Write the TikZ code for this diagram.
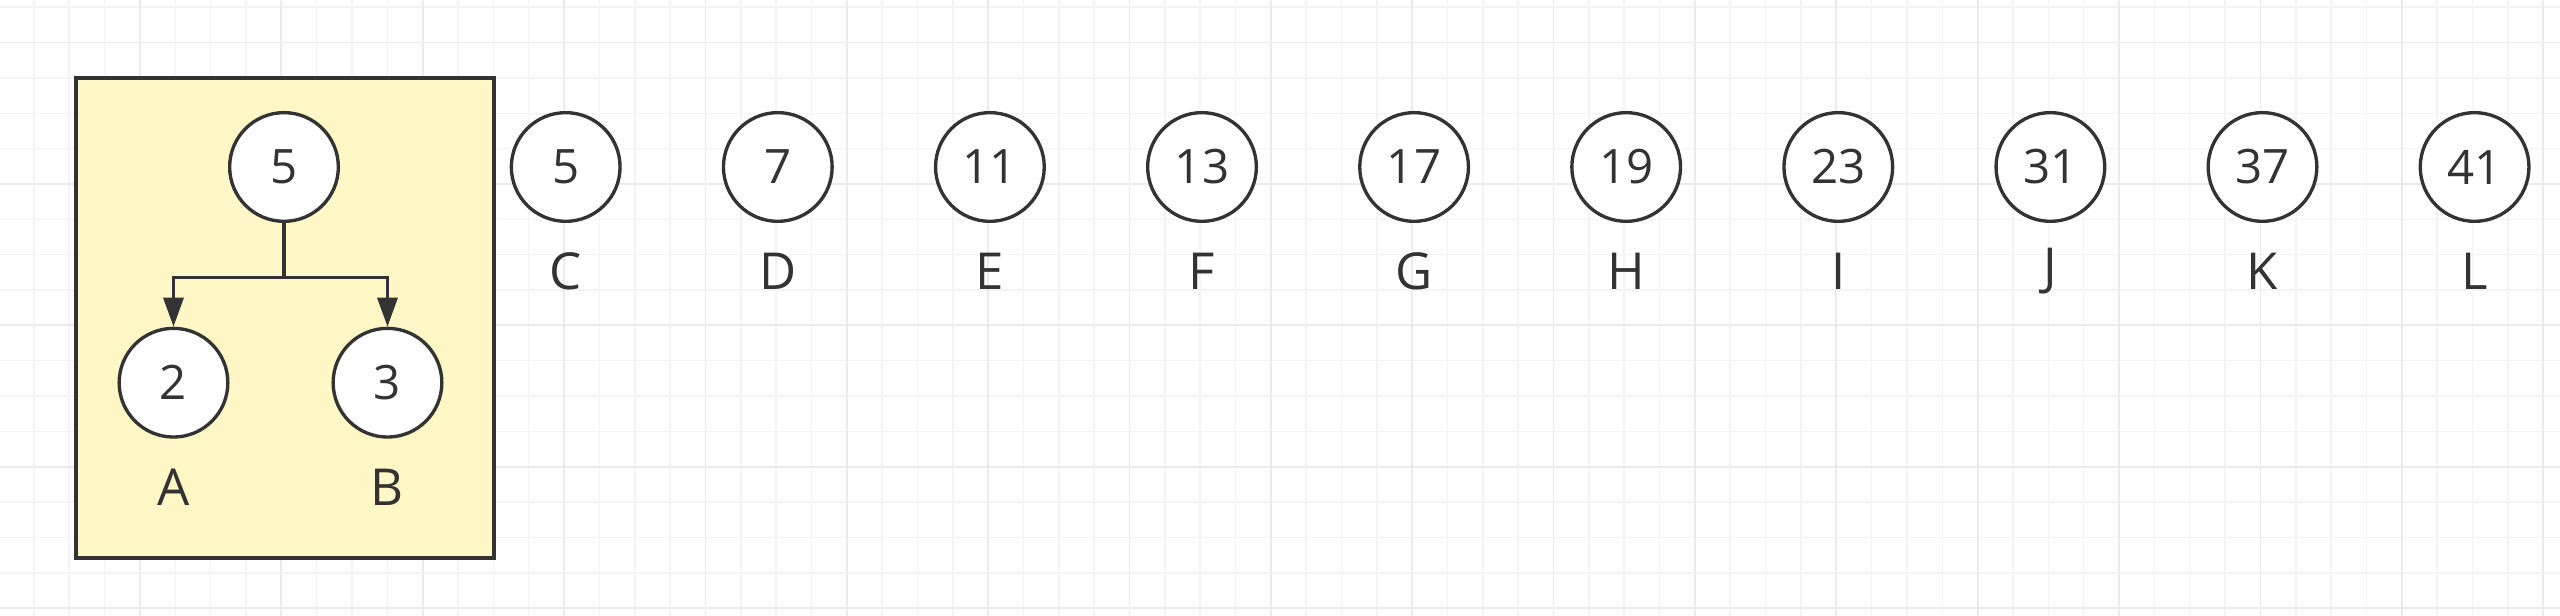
\documentclass[tikz,border=0pt]{standalone}
\usepackage{fontspec}
\setmainfont{Open Sans}
\usepackage{tikz}
\usetikzlibrary{arrows.meta}
\usetikzlibrary{calc}

\definecolor{inkgray}{HTML}{333333}
\definecolor{boxyellow}{HTML}{FFF7C6}
\definecolor{gridminor}{HTML}{F4F4F4}
\definecolor{gridmajor}{HTML}{EBEBEB}

\begin{document}
\begin{tikzpicture}[inner sep=0pt,
        node_style/.style={circle,draw=inkgray,fill=white,line width=0.95pt,minimum size=1.087cm,text=inkgray,font=\fontsize{13.5}{16}\selectfont},
        label_style/.style={text=inkgray,font=\fontsize{14.5}{17}\selectfont},
        box_style/.style={draw=inkgray,fill=boxyellow,line width=1.15pt},
        edge_style/.style={draw=inkgray,line width=0.95pt,-{Triangle[length=0.29cm,width=0.2cm]}},
        minor_line/.style={draw=gridminor,line width=0.45pt},
        major_line/.style={draw=gridmajor,line width=0.5pt}]

        \useasboundingbox (0,0) rectangle (25.6,-6.16);
        \fill[white] (0,0) rectangle (25.6,-6.16);

        % background grid
        \foreach \k in {0,...,73}
            \draw[minor_line] ({(-1.4+\k*35.34)/100},0) -- ({(-1.4+\k*35.34)/100},-6.16);
        \foreach \k in {0,...,17}
            \draw[minor_line] (0,{-(7.3+\k*35.34)/100}) -- (25.6,{-(7.3+\k*35.34)/100});
        \foreach \k in {0,...,18}
            \draw[major_line] ({(-1.4+\k*141.36)/100},0) -- ({(-1.4+\k*141.36)/100},-6.16);
        \foreach \k in {0,...,4}
            \draw[major_line] (0,{-(42.6+\k*141.36)/100}) -- (25.6,{-(42.6+\k*141.36)/100});

        % merged tree
        \draw[box_style] (0.762,-0.778) rectangle (4.937,-5.58);

        \node [node_style](root) at (2.84,-1.67) {5};
        \node [node_style](nA) at (1.735,-3.827) {2};
        \node [node_style](nB) at (3.875,-3.827) {3};
        \node [label_style](lA) at (1.735,-4.87) {A};
        \node [label_style](lB) at (3.875,-4.87) {B};
        \coordinate (fork) at (2.84,-2.773);
        \draw [edge_style] (root) -- (fork) -| (nA);
        \draw [edge_style] (fork) -| (nB);

        % single trees
        \node [node_style](nC) at (5.657,-1.67) {5};
        \node [node_style](nD) at (7.778,-1.67) {7};
        \node [node_style](nE) at (9.899,-1.67) {11};
        \node [node_style](nF) at (12.02,-1.67) {13};
        \node [node_style](nG) at (14.141,-1.67) {17};
        \node [node_style](nH) at (16.262,-1.67) {19};
        \node [node_style](nI) at (18.383,-1.67) {23};
        \node [node_style](nJ) at (20.504,-1.67) {31};
        \node [node_style](nK) at (22.625,-1.67) {37};
        \node [node_style](nL) at (24.746,-1.67) {41};

        \node [label_style](lC) at (5.657,-2.71) {C};
        \node [label_style](lD) at (7.778,-2.71) {D};
        \node [label_style](lE) at (9.899,-2.71) {E};
        \node [label_style](lF) at (12.02,-2.71) {F};
        \node [label_style](lG) at (14.141,-2.71) {G};
        \node [label_style](lH) at (16.262,-2.71) {H};
        \node [label_style](lI) at (18.383,-2.71) {I};
        \node [label_style](lJ) at (20.504,-2.71) {J};
        \node [label_style](lK) at (22.625,-2.71) {K};
        \node [label_style](lL) at (24.746,-2.71) {L};
\end{tikzpicture}
\end{document}
